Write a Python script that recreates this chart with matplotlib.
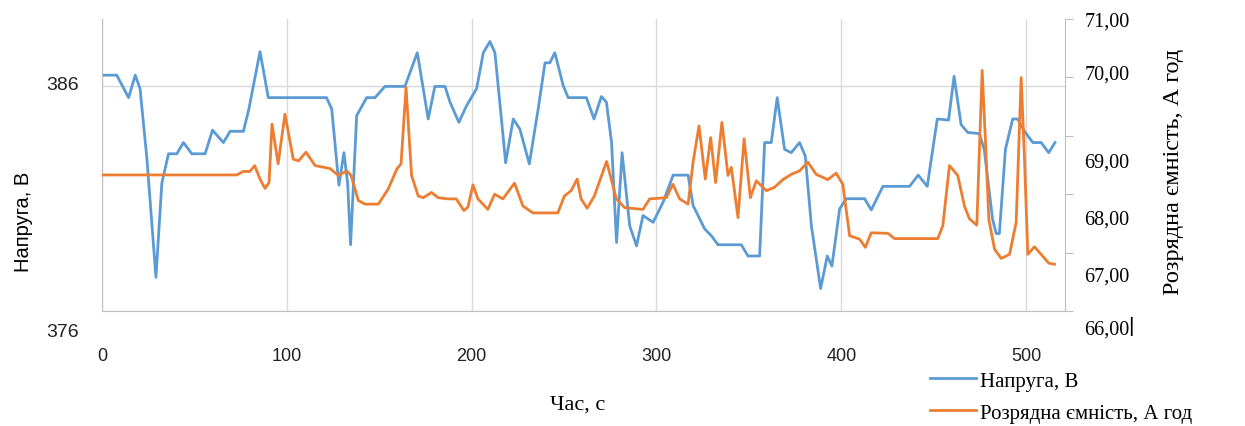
import matplotlib
matplotlib.use("Agg")
import matplotlib.pyplot as plt
from matplotlib.transforms import ScaledTranslation

# Voltage series (left axis)
t_voltage = [
    0, 8, 14.4, 18, 20.6, 24.3, 29.2, 32.4, 36, 40.5,
    44.1, 48.6, 55.8, 59.8, 65.7, 69.3, 76.5, 79.5, 85.5, 90,
    121.5, 124.3, 128.2, 130.9, 132.9, 134.5, 137.8, 143.2, 147.7, 153.1,
    163.9, 170.6, 176.5, 180.1, 185.6, 188.3, 193.1, 197.3, 202.7, 206.3,
    209.9, 212.6, 218.4, 222.5, 226.1, 231.2, 236.0, 239.7, 242.3, 245.0,
    249.5, 252.2, 262.1, 266.2, 270.2, 272.9, 275.7, 278.4, 281.4, 285.5,
    289.2, 292.7, 298.2, 303.6, 309.0, 317.1, 319.8, 326.1, 329.7, 333.3,
    345.9, 349.5, 355.8, 358.5, 362.1, 365.3, 369.3, 372.9, 377.4, 380.5,
    383.8, 388.8, 392.4, 394.9, 399.1, 402.7, 412.6, 416.2, 422.5, 436.9,
    441.6, 446.5, 451.9, 458.0, 461.0, 464.8, 468.4, 474.6, 477.3, 481.8,
    483.8, 485.5, 488.8, 492.7, 495.4, 499.1, 503.6, 508.1, 512.2, 515.6,
]
voltage = [
    386.5, 386.5, 385.5, 386.5, 385.9, 382.8, 377.5, 381.7, 383.0, 383.0,
    383.5, 383.0, 383.0, 384.05, 383.5, 384.0, 384.0, 385.0, 387.55, 385.5,
    385.5, 385.0, 381.6, 383.05, 381.7, 378.95, 384.7, 385.5, 385.5, 386.0,
    386.0, 387.5, 384.55, 386.0, 386.0, 385.3, 384.4, 385.15, 385.9, 387.5,
    388.0, 387.5, 382.6, 384.55, 384.1, 382.55, 385.0, 387.05, 387.05, 387.5,
    386.05, 385.5, 385.5, 384.55, 385.55, 385.3, 383.5, 379.05, 383.05, 379.8,
    378.9, 380.25, 379.95, 380.85, 382.05, 382.05, 380.7, 379.65, 379.35, 378.95,
    378.95, 378.45, 378.45, 383.5, 383.5, 385.5, 383.2, 383.05, 383.5, 382.9,
    379.8, 377.0, 378.45, 378.0, 380.55, 381.0, 381.0, 380.5, 381.55, 381.55,
    382.05, 381.55, 384.55, 384.5, 386.45, 384.3, 383.95, 383.9, 383.2, 380.1,
    379.45, 379.45, 383.2, 384.55, 384.55, 384.0, 383.5, 383.5, 383.05, 383.5,
]

# Discharge capacity series (right axis)
t_capacity = [
    0, 72.9, 76.5, 80.1, 82.6, 85.5, 88.2, 90.4, 92.0, 95.3,
    99.0, 103.5, 106.3, 110.4, 115.3, 123.4, 127.9, 132.4, 134.8, 138.7,
    142.4, 149.5, 154.9, 159.5, 161.8, 164.5, 167.5, 171.1, 173.8, 178.3,
    181.9, 187.2, 191.7, 195.8, 198.0, 200.7, 203.4, 208.8, 212.4, 216.9,
    223.2, 227.7, 233.1, 246.6, 250.2, 253.8, 257.1, 259.2, 262.5, 266.4,
    273.0, 274.6, 278.3, 282.8, 292.7, 296.3, 305.3, 308.9, 312.5, 317.1,
    319.8, 323.0, 326.4, 329.3, 332.0, 335.4, 338.7, 340.5, 344.1, 347.4,
    350.8, 354.0, 359.5, 363.9, 368.4, 372.9, 377.4, 381.9, 386.4, 392.7,
    397.2, 400.8, 404.5, 409.9, 413.0, 416.2, 425.2, 428.8, 452.2, 454.9,
    458.5, 463.0, 466.6, 469.3, 473.3, 476.2, 478.0, 479.8, 482.9, 486.5,
    491.0, 494.6, 497.3, 499.1, 500.9, 504.5, 508.1, 512.2, 515.3,
]
capacity = [
    68.33, 68.33, 68.39, 68.39, 68.49, 68.26, 68.10, 68.2, 69.2, 68.52,
    69.37, 68.6, 68.57, 68.72, 68.49, 68.44, 68.32, 68.4, 68.32, 67.89,
    67.83, 67.83, 68.09, 68.43, 68.52, 69.83, 68.32, 67.97, 67.94, 68.03,
    67.94, 67.92, 67.92, 67.72, 67.78, 68.16, 67.92, 67.74, 68.0, 67.92,
    68.19, 67.8, 67.68, 67.68, 67.97, 68.06, 68.26, 67.92, 67.76, 67.97,
    68.56, 68.37, 67.92, 67.77, 67.74, 67.92, 67.94, 68.17, 67.92, 67.83,
    68.55, 69.17, 68.26, 68.97, 68.2, 69.23, 68.32, 68.46, 67.6, 68.95,
    67.94, 68.23, 68.06, 68.12, 68.25, 68.34, 68.4, 68.55, 68.34, 68.25,
    68.36, 68.17, 67.29, 67.23, 67.09, 67.34, 67.33, 67.24, 67.24, 67.46,
    68.49, 68.32, 67.8, 67.58, 67.47, 70.12, 68.89, 67.57, 67.06, 66.9,
    66.97, 67.52, 70.0, 68.6, 66.97, 67.1, 66.97, 66.82, 66.8,
]

x_ticks = [0, 100, 200, 300, 400, 500]
left_ticks = [376, 386]
right_ticks = [66, 67, 68, 69, 70, 71]
right_labels = ["66,00", "67,00", "68,00", "69,00", "70,00", "71,00"]

blue = "#5B9BD5"
orange = "#ED7D31"
grid_color = "#D9D9D9"
spine_color = "#BFBFBF"

fig = plt.figure(figsize=(12.45, 4.27), dpi=100)
ax = fig.add_axes([0.0819, 0.2693, 0.7735, 0.6838])
ax2 = ax.twinx()

ax.plot(t_voltage, voltage, color=blue, lw=2.0, solid_joinstyle="round", label="Напруга, В")
ax2.plot(t_capacity, capacity, color=orange, lw=2.0, solid_joinstyle="round",
         label="Розрядна ємність, А год")

ax.set_xlim(0, 521)
ax.set_ylim(376, 389)
ax2.set_ylim(66, 71)

# grid
ax.set_xticks(x_ticks)
ax.set_yticks(left_ticks)
ax.grid(True, color=grid_color, lw=1)
ax.set_axisbelow(True)

for a in (ax, ax2):
    a.spines["top"].set_visible(False)
    for s in ("left", "right", "bottom"):
        a.spines[s].set_color(spine_color)
ax.spines["right"].set_visible(False)
ax2.spines["left"].set_visible(False)
ax2.spines["bottom"].set_visible(False)

ax.tick_params(axis="x", length=0, pad=26, labelsize=13)
ax.tick_params(axis="y", length=0, pad=17, labelsize=14)
for lab in ax.get_xticklabels() + ax.get_yticklabels():
    lab.set_fontfamily("Liberation Sans")
    lab.set_color("#222222")

ax2.set_yticks(right_ticks)
ax2.set_yticklabels(right_labels, fontfamily="Liberation Serif", fontsize=14.5)
ax2.tick_params(axis="y", length=6, color=spine_color, pad=8)

# label offsets as in the source image (pixels, positive = down)
right_offsets = [16, 21, 22, 24, -6, 0]
for lab, dy in zip(ax2.get_yticklabels(), right_offsets):
    lab.set_transform(lab.get_transform() + ScaledTranslation(0, -dy / 100, fig.dpi_scale_trans))
left_offsets = [18, -4]
for lab, dy in zip(ax.get_yticklabels(), left_offsets):
    lab.set_transform(lab.get_transform() + ScaledTranslation(0, -dy / 100, fig.dpi_scale_trans))

# text cursor mark after the bottom right label
fig.text(1128 / 1245, 1 - 327 / 427, "|", fontsize=15, color="black", va="center",
         fontfamily="Liberation Sans")

ax.set_xlabel("Час, с", fontfamily="Liberation Serif", fontsize=16)
ax.xaxis.set_label_coords(0.494, -0.285)
ax.set_ylabel("Напруга, В", fontfamily="Liberation Sans", fontsize=14.5)
ax.yaxis.set_label_coords(-0.072, 0.308)
ax2.set_ylabel("Розрядна ємність, А год", fontfamily="Liberation Serif", fontsize=17.5)
ax2.yaxis.set_label_coords(1.102, 0.479)

h1, l1 = ax.get_legend_handles_labels()
h2, l2 = ax2.get_legend_handles_labels()
fig.legend(h1 + h2, l1 + l2, loc="upper left", bbox_to_anchor=(930 / 1245, 1 - 372 / 427),
           frameon=False, borderpad=0, borderaxespad=0, handlelength=2.2,
           handletextpad=0.2, labelspacing=0.6,
           prop={"family": "Liberation Serif", "size": 15})

fig.savefig("out.png", dpi=100)
